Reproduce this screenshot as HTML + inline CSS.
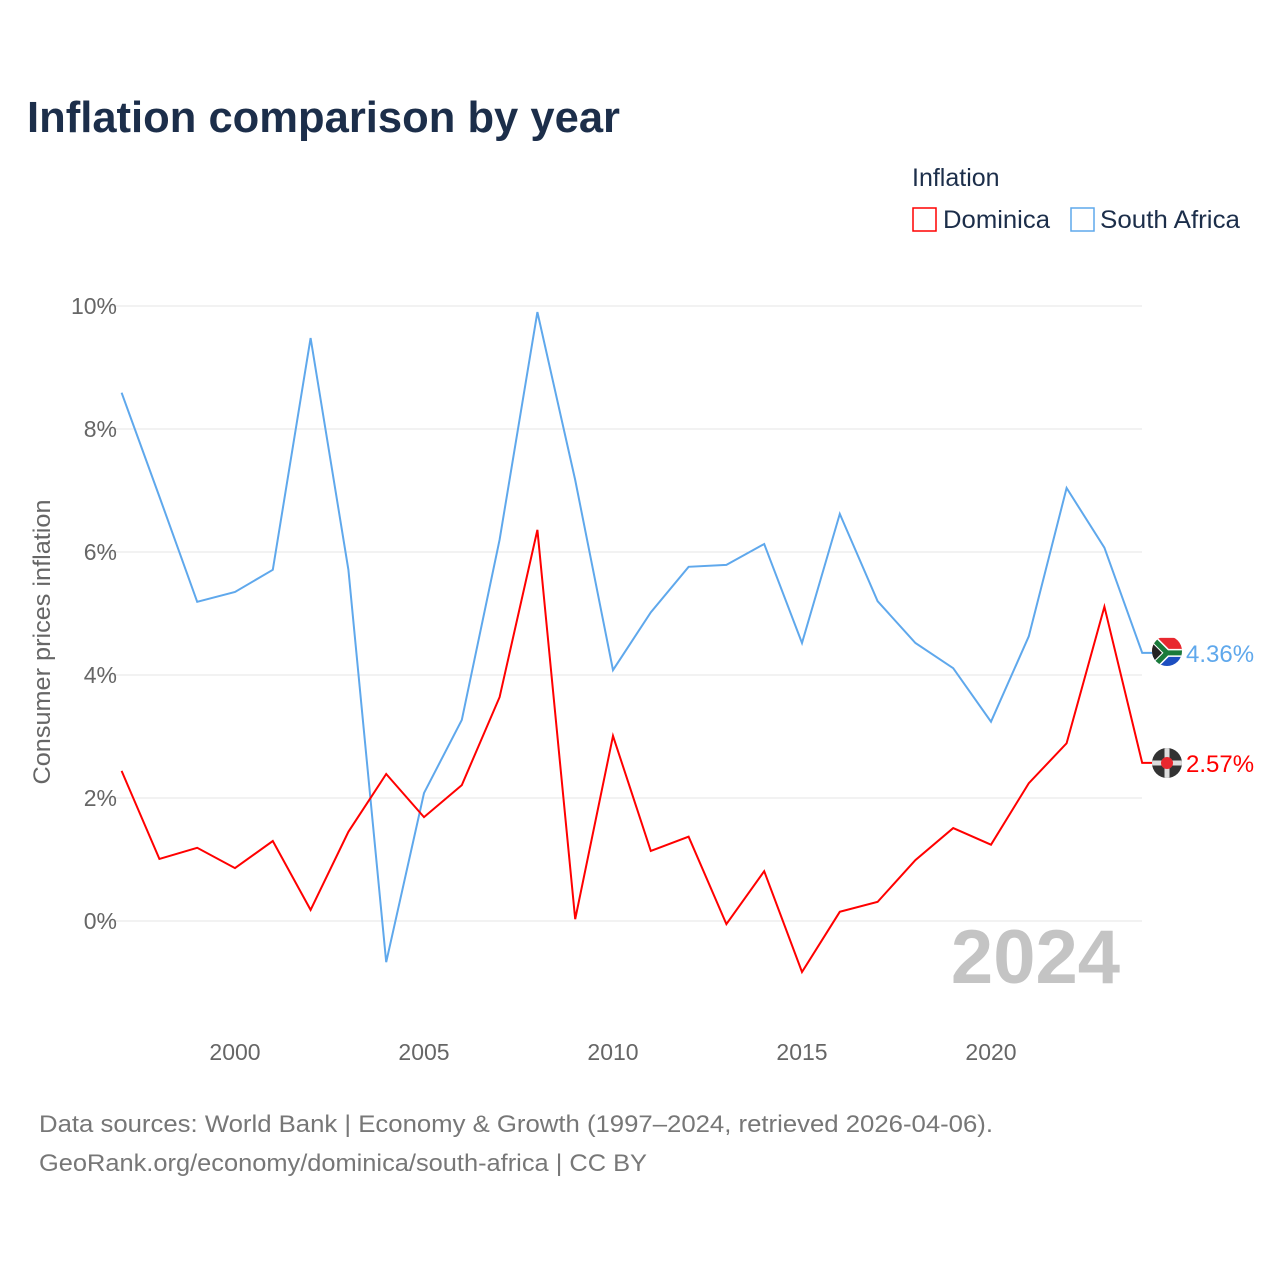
<!DOCTYPE html>
<html><head><meta charset="utf-8"><style>
body{margin:0;background:#fff;width:1280px;height:1280px;overflow:hidden;font-family:"Liberation Sans",sans-serif}
</style></head><body>
<svg width="1280" height="1280" xmlns="http://www.w3.org/2000/svg">
<text x="27" y="132" font-size="44" font-weight="bold" fill="#1c2e4a" textLength="593" lengthAdjust="spacingAndGlyphs">Inflation comparison by year</text>
<text x="912" y="186" font-size="25" fill="#1c2e4a">Inflation</text>
<g><rect x="913" y="208" width="23" height="23" fill="none" stroke="#ff0000" stroke-width="1.5"/><text x="943" y="228" font-size="25" fill="#1c2e4a" textLength="107" lengthAdjust="spacingAndGlyphs">Dominica</text></g>
<g><rect x="1071" y="208" width="23" height="23" fill="none" stroke="#5fa8ec" stroke-width="1.5"/><text x="1100" y="228" font-size="25" fill="#1c2e4a" textLength="140" lengthAdjust="spacingAndGlyphs">South Africa</text></g>
<g id="grid"></g><g id="xt"></g><g id="series"></g>
<text transform="translate(50,642) rotate(-90)" text-anchor="middle" font-size="24" fill="#666" textLength="285" lengthAdjust="spacingAndGlyphs">Consumer prices inflation</text>
<text x="1120" y="983" text-anchor="end" font-size="76" font-weight="bold" fill="#c4c4c4">2024</text>
<text x="39" y="1132" font-size="24" fill="#777" textLength="954" lengthAdjust="spacingAndGlyphs">Data sources: World Bank | Economy &amp; Growth (1997–2024, retrieved 2026-04-06).</text>
<text x="39" y="1171" font-size="24" fill="#777" textLength="608" lengthAdjust="spacingAndGlyphs">GeoRank.org/economy/dominica/south-africa | CC BY</text>
<defs>
<clipPath id="c1"><circle cx="1167" cy="651" r="15"/></clipPath>
<clipPath id="c2"><circle cx="1167" cy="763" r="15"/></clipPath>
</defs>
</svg>
<script>
const years=[1997,1998,1999,2000,2001,2002,2003,2004,2005,2006,2007,2008,2009,2010,2011,2012,2013,2014,2015,2016,2017,2018,2019,2020,2021,2022,2023,2024];
const southAfrica=[8.59,6.9,5.19,5.35,5.71,9.48,5.71,-0.67,2.08,3.27,6.2,9.9,7.17,4.08,5.02,5.76,5.79,6.13,4.52,6.62,5.2,4.52,4.11,3.24,4.63,7.04,6.07,4.36];
const dominica=[2.44,1.01,1.19,0.86,1.3,0.18,1.45,2.39,1.69,2.21,3.64,6.36,0.03,3.01,1.14,1.37,-0.05,0.81,-0.83,0.15,0.31,0.99,1.51,1.24,2.24,2.89,5.11,2.57];
const yTicks=[0,2,4,6,8,10];
const xTicks=[2000,2005,2010,2015,2020];
const NS="http://www.w3.org/2000/svg";
const X=y=>121.6+(y-1997)*37.8, Y=v=>921-v*61.5;
function mk(t,a,p){const e=document.createElementNS(NS,t);for(const k in a)e.setAttribute(k,a[k]);p.appendChild(e);return e;}
const g=document.getElementById('grid');
yTicks.forEach(v=>{
 const l=mk('line',{x1:98,x2:1142,y1:Y(v),y2:Y(v),stroke:'#e6e6e6','stroke-width':1},g);
 
 
 const t=mk('text',{x:117,y:Y(v)+8,'text-anchor':'end','font-size':23,fill:'#666'},g);t.textContent=v+'%';
 
 
});
const xt=document.getElementById('xt');
xTicks.forEach(v=>{
 const t=mk('text',{x:X(v),y:1060,'text-anchor':'middle','font-size':23,fill:'#666'},xt);t.textContent=v;
 
 
});
const s=document.getElementById('series');
function line(vals,col,name,flagFn){
 let d=vals.map((v,i)=>(i?'L':'M')+X(years[i]).toFixed(1)+','+Y(v).toFixed(1)).join('');
 const last=vals[vals.length-1];
 d+='L1152,'+Y(last).toFixed(1);
 const p=mk('path',{d:d,fill:'none',stroke:col,'stroke-width':2},s);
 
 
 const fg=mk('g',{},s);
 
 
 flagFn(fg,1167,Y(last));
 const t=mk('text',{x:1186,y:Y(last)+9,'font-size':24,fill:col},s);t.textContent=last.toFixed(2)+'%';
 
 
}
function saFlag(gr,cx,cy){
 const c=mk('g',{'clip-path':'url(#c1)'},gr);
 mk('rect',{x:cx-15,y:cy-15,width:30,height:15,fill:'#e8282f'},c);
 mk('rect',{x:cx-15,y:cy,width:30,height:15,fill:'#1d4ec0'},c);
 mk('path',{d:`M${cx-15},${cy-15}L${cx},${cy}L${cx+15},${cy}M${cx-15},${cy+15}L${cx},${cy}`,stroke:'#fff','stroke-width':8,fill:'none'},c);
 mk('path',{d:`M${cx-15},${cy-15}L${cx},${cy}L${cx+15},${cy}M${cx-15},${cy+15}L${cx},${cy}`,stroke:'#1a7a3a','stroke-width':5,fill:'none'},c);
 mk('path',{d:`M${cx-15},${cy-10}L${cx-5},${cy}L${cx-15},${cy+10}Z`,fill:'#222'},c);
}
function dmFlag(gr,cx,cy){
 const c=mk('g',{'clip-path':'url(#c2)'},gr);
 mk('rect',{x:cx-15,y:cy-15,width:30,height:30,fill:'#333'},c);
 mk('path',{d:`M${cx-15},${cy}H${cx+15}M${cx},${cy-15}V${cy+15}`,stroke:'#ddd','stroke-width':5},c);
 mk('circle',{cx:cx,cy:cy,r:6,fill:'#e8282f'},c);
}
line(southAfrica,'#5fa8ec','south-africa',saFlag);
line(dominica,'#ff0000','dominica',dmFlag);
</script>
</body></html>
